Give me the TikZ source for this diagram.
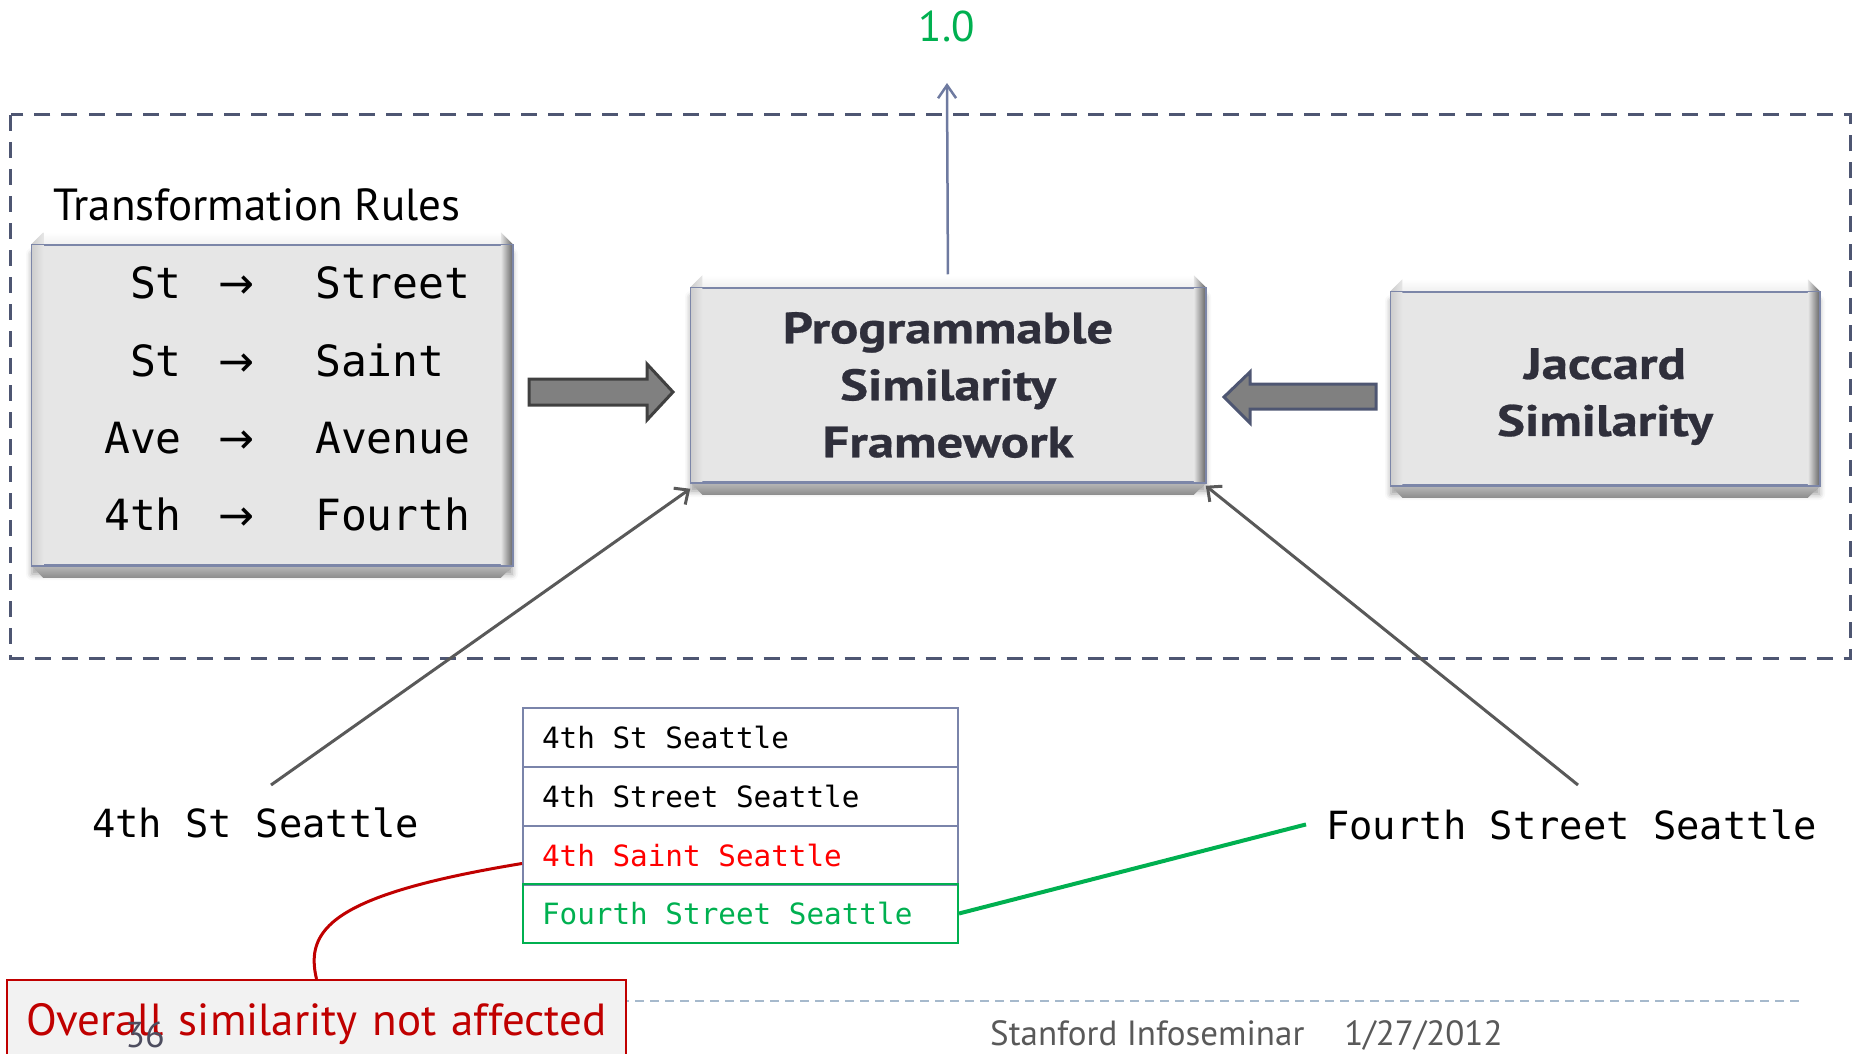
\documentclass[tikz,border=0pt]{standalone}
\usepackage{fontspec}
\setmainfont{PT Sans}
\newfontfamily\monof{DejaVu Sans Mono}
\newfontfamily\symf{DejaVu Sans}
\newfontfamily\headf[FakeStretch=1.2, FakeBold=0.6]{PT Sans Bold}
\usetikzlibrary{calc,shadows.blur,arrows.meta}

\definecolor{boxfill}{HTML}{E6E6E6}
\definecolor{boxedge}{HTML}{7C86A8}
\definecolor{txtdark}{HTML}{2F2F3B}
\definecolor{framecol}{HTML}{4E5672}
\definecolor{arrowup}{HTML}{6E7AA0}
\definecolor{lineg}{HTML}{595959}
\definecolor{tablecol}{HTML}{7A84AA}
\definecolor{okgreen}{HTML}{00B050}
\definecolor{badred}{HTML}{FF0000}
\definecolor{darkred}{HTML}{C00000}
\definecolor{footline}{HTML}{A6B9CC}
\definecolor{footgray}{HTML}{595959}
\definecolor{pagenum}{HTML}{4D4D5F}
\definecolor{blockfill}{HTML}{808080}

\newlength\bw
\setlength\bw{12pt}

% monospaced cell text with the font's own word spacing
\newcommand\celltext[1]{\monof\spaceskip=0pt\xspaceskip=0pt\relax #1}

% bevelled edges drawn on top of a box node
\newcommand\bevelize[1]{%
  \shade[top color=white, bottom color=boxfill!60!white]
    (#1.north west) -- (#1.north east) -- ($(#1.north east)+(-\bw,\bw)$) -- ($(#1.north west)+(\bw,\bw)$) -- cycle;
  \shade[left color=gray!40, right color=boxfill]
    (#1.north west) -- ($(#1.north west)+(\bw,\bw)$) -- ($(#1.south west)+(\bw,-\bw)$) -- (#1.south west) -- cycle;
  \shade[left color=boxfill, right color=black!60]
    (#1.north east) -- (#1.south east) -- ($(#1.south east)+(-\bw,-\bw)$) -- ($(#1.north east)+(-\bw,\bw)$) -- cycle;
  \shade[top color=boxfill!80!black, bottom color=black!45]
    (#1.south west) -- ($(#1.south west)+(\bw,-\bw)$) -- ($(#1.south east)+(-\bw,-\bw)$) -- (#1.south east) -- cycle;
  \draw[boxedge, line width=1.5pt] (#1.north west) rectangle (#1.south east);
}

\tikzset{
  sbox/.style={rectangle, fill=boxfill, draw=boxedge, line width=1.5pt, inner sep=0pt,
    blur shadow={shadow xshift=0pt, shadow yshift=-9pt, shadow blur radius=6pt, shadow opacity=40}},
  boxtext/.style={inner sep=0pt, align=center, text=txtdark, font=\headf\fontsize{44}{57}\selectfont},
  rulefont/.style={font=\monof\fontsize{43}{50}\selectfont, inner sep=0pt},
  addrfont/.style={font=\monof\fontsize{38.8}{46}\selectfont, inner sep=0pt},
  row/.style={rectangle, draw=tablecol, line width=2pt, minimum width=435pt, minimum height=59pt,
    inner xsep=19pt, inner ysep=0pt, text width=397pt, align=left,
    font=\fontsize{29.3}{34}\selectfont},
  feed/.style={draw=lineg, line width=3pt, -{Straight Barb[length=11pt, width=20pt]}},
  blockarrow/.style={fill=blockfill, line width=3pt, line join=miter},
}

\begin{document}
\begin{tikzpicture}[x=1pt, y=-1pt]
\useasboundingbox (0,0) rectangle (1856,1054);
\clip (0,0) rectangle (1856,1054);

% dashed frame around the framework
\draw[framecol, line width=3pt, dash pattern=on 16pt off 11pt] (10.5,115) rectangle (1850,658);

% boxes (text is set on top of the bevel)
\node[sbox, minimum width=480pt, minimum height=320pt] (rules) at (272,405) {};
\bevelize{rules}
\node[sbox, minimum width=514pt, minimum height=194pt] (psf) at (948,385) {};
\bevelize{psf}
\node[boxtext] (psft) at (psf.center) {Programmable\\Similarity\\Framework};
\node[sbox, minimum width=428pt, minimum height=193pt] (jac) at (1605,388.5) {};
\bevelize{jac}
\node[boxtext] (jact) at (jac.center) {\rule{0pt}{47pt}Jaccard\\Similarity};

% rules title and entries
\node[anchor=base west, inner sep=0pt, font=\fontsize{45}{50}\selectfont] (rtitle) at (53,220) {Transformation Rules};
\foreach \l/\r/\y [count=\i] in {St/Street/298, St/Saint/376, Ave/Avenue/453, 4th/Fourth/530}{
  \node[rulefont, anchor=base east] (rl\i) at (182,\y) {\l};
  \node[rulefont, font=\symf\fontsize{43}{50}\selectfont, anchor=base] (ra\i) at (237,\y) {→};
  \node[rulefont, anchor=base west] (rr\i) at (315,\y) {\r};
}

% block arrows feeding the framework
\draw[blockarrow, draw=black!75] (529,379) -- (647,379) -- (647,364) -- (673,392) -- (647,420) -- (647,405) -- (529,405) -- cycle;
\draw[blockarrow, draw=framecol] (1376,384) -- (1250,384) -- (1250,372) -- (1224,397) -- (1250,423) -- (1250,409) -- (1376,409) -- cycle;

% output score
\node[okgreen, inner sep=0pt, anchor=base, font=\fontsize{43}{48}\selectfont] (one) at (947,42) {1.0};
\coordinate (outtip) at (947,83);
\draw[arrowup, line width=2.5pt, shorten <=13pt, -{Straight Barb[length=13pt, width=18pt]}] (psf.north) -- (outtip);

% input strings
\node[addrfont, anchor=base west] (lt) at (92,837) {4th St Seattle};
\node[addrfont, anchor=base west] (fss) at (1326,839) {Fourth Street Seattle};
\coordinate (ls) at (271,785);
\coordinate (rs) at (1578,785);
\draw[feed] (ls) -- ([yshift=-6pt]psf.south west);
\draw[feed] (rs) -- ([yshift=-3pt]psf.south east);

% candidate table
\node[row, anchor=north west] (r1) at (522,707) {\celltext{4th St Seattle}};
\node[row, anchor=north west] (r2) at (522,766) {\celltext{4th Street Seattle}};
\node[row, anchor=north west, text=badred] (r3) at (522,825) {\celltext{4th Saint Seattle}};
\node[row, anchor=north west, draw=okgreen, text=okgreen] (r4) at (522,883) {\celltext{Fourth Street Seattle}};

% footer rule and text
\draw[footline, line width=2pt, dash pattern=on 9pt off 6pt] (530,1001) -- (1802,1001);
\node[anchor=base west, inner sep=0pt, text=footgray, font=\fontsize{35}{40}\selectfont] (foot) at (990,1045) {Stanford Infoseminar\hspace{40pt}1/27/2012};

% callout
\node[rectangle, anchor=north west, fill=black!5, draw=darkred, line width=2pt, minimum width=619pt,
  minimum height=88pt, inner xsep=19pt, text width=581pt, align=left, text=darkred,
  font=\fontsize{45}{50}\selectfont] (ov) at (6,979) {Overall similarity not affected};
\node[text=pagenum, inner sep=0pt, anchor=base, font=\fontsize{36}{40}\selectfont] (pg) at (145,1047) {36};
\draw[darkred, line width=3pt] ([yshift=-8pt]r3.west) .. controls (330,895) and (305,930) .. (ov.north);
\draw[okgreen, line width=4pt] (r4.east) -- ([xshift=-20pt]fss.west);
\end{tikzpicture}
\end{document}
